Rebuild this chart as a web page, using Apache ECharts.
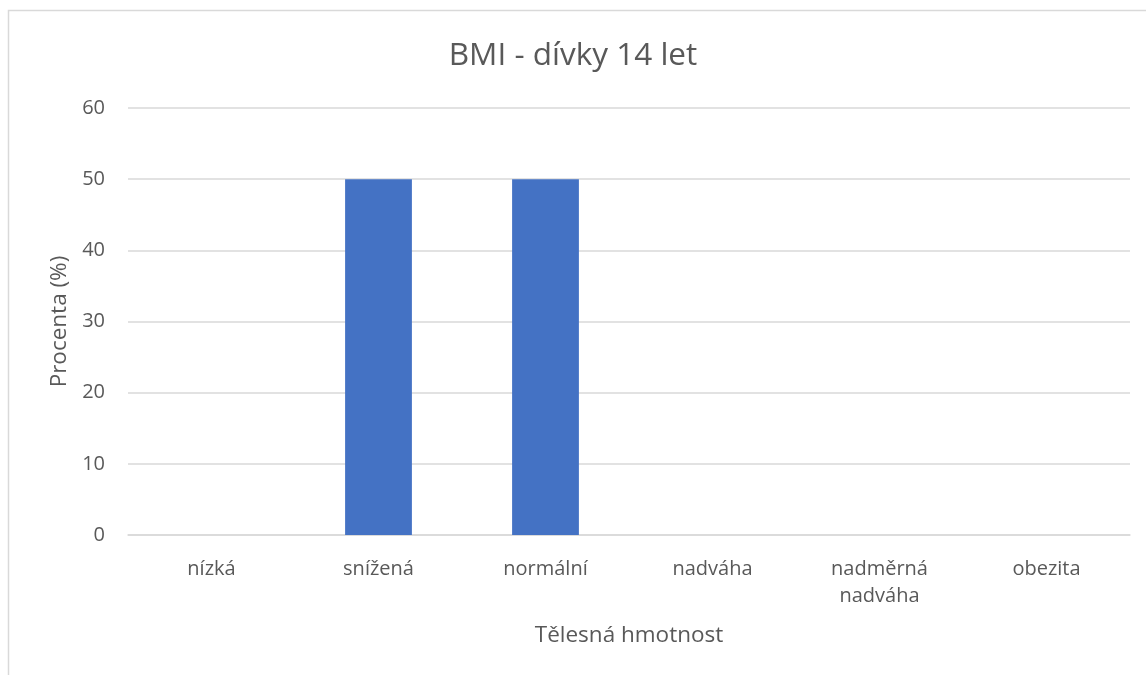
<!DOCTYPE html>
<html>
<head>
<meta charset="utf-8">
<script src="https://cdn.jsdelivr.net/npm/echarts@6/dist/echarts.min.js"></script>
<style>
  html, body { margin: 0; padding: 0; background: #fff; }
  #chart { width: 1146px; height: 675px; }
</style>
</head>
<body>
<div id="chart"></div>
<script>
// BMI categories and share of girls (%) in each
const categories = ['nízká', 'snížená', 'normální', 'nadváha', 'nadměrná\nnadváha', 'obezita'];
const percentValues = [0, 50, 50, 0, 0, 0];
const yTicks = { min: 0, max: 60, interval: 10 };

const FONT = '"Open Sans", "Noto Sans", sans-serif';
const TEXT = '#595959';

const chart = echarts.init(document.getElementById('chart'), null, { renderer: 'canvas' });
chart.setOption({
  animation: false,
  backgroundColor: '#fff',
  // chart frame (right and bottom edges fall outside the canvas)
  graphic: [{
    type: 'rect',
    shape: { x: 8.5, y: 10.5, width: 1160, height: 700 },
    style: { fill: 'none', stroke: '#d9d9d9', lineWidth: 1.5 },
    silent: true
  }],
  title: {
    text: 'BMI - dívky 14 let',
    left: 'center',
    top: 35,
    textStyle: { fontFamily: FONT, fontSize: 31.5, fontWeight: 'normal', color: TEXT }
  },
  grid: { left: 128, right: 16, top: 108, bottom: 140, containLabel: false },
  xAxis: {
    type: 'category',
    data: categories,
    name: 'Tělesná hmotnost',
    nameLocation: 'middle',
    nameGap: 89,
    nameTextStyle: { fontFamily: FONT, fontSize: 22.5, color: TEXT },
    axisLine: { show: true, lineStyle: { color: '#d9d9d9', width: 1.5 } },
    axisTick: { show: false },
    axisLabel: { fontFamily: FONT, fontSize: 20, color: TEXT, margin: 21, lineHeight: 27 }
  },
  yAxis: {
    type: 'value',
    min: yTicks.min,
    max: yTicks.max,
    interval: yTicks.interval,
    name: 'Procenta (%)',
    nameLocation: 'middle',
    nameGap: 55,
    nameRotate: 90,
    nameTextStyle: { fontFamily: FONT, fontSize: 22.5, color: TEXT },
    axisLine: { show: false },
    axisTick: { show: false },
    axisLabel: { fontFamily: FONT, fontSize: 20, color: TEXT, margin: 23 },
    splitLine: { lineStyle: { color: '#d9d9d9', width: 1.5 } }
  },
  series: [{
    type: 'bar',
    data: percentValues,
    barWidth: '40%',
    itemStyle: { color: '#4472c4' }
  }]
});
</script>
</body>
</html>
